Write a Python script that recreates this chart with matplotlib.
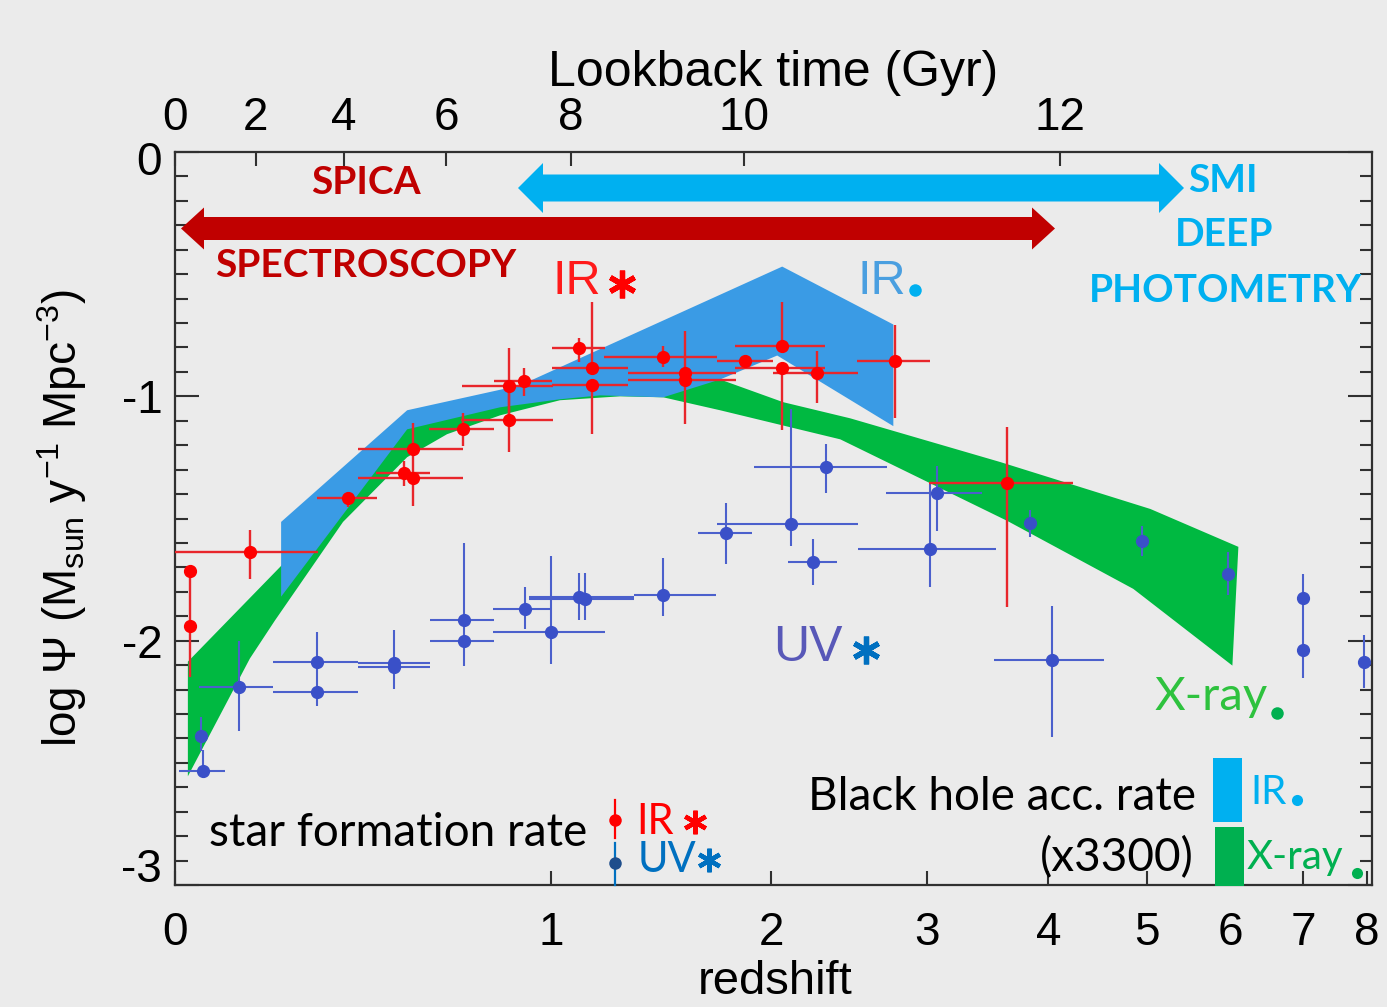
import numpy as np
import matplotlib
matplotlib.use('Agg')
import matplotlib.pyplot as plt
from matplotlib.patches import Polygon, Rectangle
from matplotlib.lines import Line2D
from matplotlib.ticker import MultipleLocator, FixedLocator, NullLocator

plt.rcParams['font.family'] = ['Liberation Sans', 'DejaVu Sans']
plt.rcParams['mathtext.fontset'] = 'custom'
plt.rcParams['mathtext.rm'] = 'Liberation Sans'
plt.rcParams['mathtext.it'] = 'Liberation Sans:italic'

# ---------------- data ----------------
# IR star formation rate density points: redshift, x-bar ends, log SFRD, y-bar ends
ir_z    = [0.028, 0.028, 0.148, 0.375, 0.525, 0.551, 0.551, 0.700, 0.851, 0.851, 0.903,
           1.106, 1.157, 1.157, 1.459, 1.561, 1.561, 1.860, 2.062, 2.062, 2.266, 2.772, 3.637]
ir_zlo  = [0.028, 0.028, 0.000, 0.299, 0.448, 0.401, 0.401, 0.597, 0.694, 0.697, 0.800,
           1.004, 1.004, 1.004, 1.206, 1.305, 1.305, 1.716, 1.808, 1.808, 2.012, 2.516, 3.015]
ir_zhi  = [0.028, 0.028, 0.302, 0.451, 0.600, 0.700, 0.700, 0.800, 1.007, 1.007, 1.004,
           1.210, 1.305, 1.305, 1.716, 1.813, 1.813, 2.012, 2.314, 2.314, 2.523, 3.023, 4.236]
ir_y    = [-1.714, -1.939, -1.637, -1.416, -1.314, -1.335, -1.216, -1.135, -1.098, -0.959, -0.939,
           -0.804, -0.886, -0.955, -0.837, -0.906, -0.935, -0.857, -0.796, -0.886, -0.906, -0.857, -1.355]
ir_ylo  = [-1.939, -2.147, -1.747, -1.453, -1.367, -1.449, -1.335, -1.204, -1.229, -1.098, -1.000,
           -0.861, -0.886, -1.155, -0.878, -0.906, -1.114, -0.882, -0.796, -1.139, -1.029, -1.090, -1.861]
ir_yhi  = [-1.714, -1.939, -1.547, -1.392, -1.265, -1.335, -1.110, -1.069, -0.959, -0.804, -0.882,
           -0.763, -0.612, -0.955, -0.796, -0.731, -0.935, -0.837, -0.612, -0.886, -0.816, -0.710, -1.127]

# UV star formation rate density points
uv_z    = [0.049, 0.053, 0.125, 0.299, 0.299, 0.497, 0.497, 0.704, 0.704, 0.907, 1.000, 1.106, 1.129,
           1.459, 1.762, 2.112, 2.320, 2.243, 3.023, 3.075, 3.836, 4.038, 4.947, 5.968, 7.00, 7.00, 7.95]
uv_zlo  = [0.049, 0.007, 0.045, 0.198, 0.198, 0.401, 0.401, 0.600, 0.600, 0.797, 0.797, 0.921, 0.921,
           1.331, 1.623, 1.716, 1.908, 2.095, 2.523, 2.710, 3.836, 3.526, 4.947, 5.968, 7.00, 7.00, 7.95]
uv_zhi  = [0.049, 0.096, 0.198, 0.401, 0.401, 0.600, 0.600, 0.800, 0.800, 1.000, 1.210, 1.331, 1.331,
           1.711, 1.897, 2.523, 2.717, 2.388, 3.544, 3.428, 3.836, 4.543, 4.947, 5.968, 7.00, 7.00, 7.95]
uv_y    = [-2.392, -2.535, -2.188, -2.086, -2.212, -2.090, -2.106, -1.914, -2.000, -1.869, -1.963, -1.820, -1.829,
           -1.812, -1.559, -1.522, -1.290, -1.678, -1.624, -1.396, -1.518, -2.078, -1.592, -1.727, -1.824, -2.037, -2.086]
uv_ylo  = [-2.453, -2.560, -2.371, -2.086, -2.269, -2.090, -2.196, -2.000, -2.102, -1.951, -2.094, -1.914, -1.914,
           -1.898, -1.686, -1.612, -1.396, -1.771, -1.780, -1.551, -1.576, -2.396, -1.653, -1.812, -1.824, -2.151, -2.192]
uv_yhi  = [-2.314, -2.449, -2.000, -1.963, -2.086, -1.955, -2.106, -1.600, -2.000, -1.780, -1.653, -1.722, -1.722,
           -1.661, -1.437, -1.053, -1.196, -1.584, -1.359, -1.286, -1.465, -1.857, -1.531, -1.637, -1.727, -1.824, -1.976]

# X-ray black hole accretion rate band (x3300)
xr_up_z = [0.024, 0.216, 0.380, 0.534, 0.820, 1.189, 1.459, 1.731, 2.068, 2.471, 3.577, 5.035, 6.098]
xr_up_y = [-2.086, -1.694, -1.380, -1.094, -1.012, -0.971, -0.963, -0.931, -1.024, -1.090, -1.269, -1.461, -1.616]
xr_lo_z = [0.024, 0.148, 0.202, 0.363, 0.534, 0.651, 0.820, 1.033, 1.271, 1.459, 1.731, 2.408, 3.637, 4.848, 6.020]
xr_lo_y = [-2.555, -2.073, -1.918, -1.514, -1.249, -1.155, -1.078, -1.016, -1.000, -1.004, -1.057, -1.176, -1.510, -1.788, -2.102]

# IR black hole accretion rate band (x3300)
irb_up_z = [0.216, 0.534, 0.889, 2.062, 2.758]
irb_up_y = [-1.514, -1.057, -0.955, -0.469, -0.706]
irb_lo_z = [0.216, 0.534, 0.820, 1.033, 1.189, 1.459, 1.731, 2.034, 2.758]
irb_lo_y = [-1.820, -1.135, -1.045, -1.012, -0.996, -1.004, -0.931, -0.833, -1.122]

z_ticks = [0, 1, 2, 3, 4, 5, 6, 7, 8]
lookback_ticks = [0, 2, 4, 6, 8, 10, 12]
y_ticks = [-3, -2, -1, 0]

# ---------------- cosmology for the top axis ----------------
H0, Om, OL = 70.0, 0.3, 0.7
tH = 977.8 / H0
zg = np.linspace(0, 20, 20001)
Ez = np.sqrt(Om * (1 + zg) ** 3 + OL)
integrand = 1.0 / ((1 + zg) * Ez)
tlb = tH * np.concatenate([[0], np.cumsum(0.5 * (integrand[1:] + integrand[:-1]) * np.diff(zg))])
z_of_t = np.interp(lookback_ticks, tlb, zg)

# ---------------- figure ----------------
W, H = 1387, 1007
BG = '#ebebeb'
fig = plt.figure(figsize=(W / 100, H / 100), dpi=100, facecolor=BG)
L, R, T, B = 175, 1372, 152, 885
ax = fig.add_axes([L / W, 1 - B / H, (R - L) / W, (B - T) / H])
ax.set_facecolor(BG)

fwd = lambda z: np.log10(1 + np.asarray(z, dtype=float))
inv = lambda u: 10 ** np.asarray(u, dtype=float) - 1
ax.set_xscale('function', functions=(fwd, inv))
ax.set_xlim(0, 8.08)
ax.set_ylim(-3.0, 0)

def fx(x):
    return x / W

def fy(y):
    return 1 - y / H

# bands
ax.fill(np.r_[xr_up_z, xr_lo_z[::-1]], np.r_[xr_up_y, xr_lo_y[::-1]],
        color='#00b941', lw=0, zorder=1)
ax.fill(np.r_[irb_up_z, irb_lo_z[::-1]], np.r_[irb_up_y, irb_lo_y[::-1]],
        color='#3a9be5', lw=0, zorder=2)

# points
def errpts(z, zlo, zhi, y, ylo, yhi, mc, ec, elw):
    z, zlo, zhi = map(np.asarray, (z, zlo, zhi))
    y, ylo, yhi = map(np.asarray, (y, ylo, yhi))
    ax.errorbar(z, y, xerr=[z - zlo, zhi - z], yerr=[y - ylo, yhi - y], fmt='o', ms=8.5,
                mfc=mc, mec=mc, ecolor=ec, elinewidth=elw, capsize=0, zorder=4)

errpts(uv_z, uv_zlo, uv_zhi, uv_y, uv_ylo, uv_yhi, '#3a50c8', '#4b60cc', 1.5)
errpts(ir_z, ir_zlo, ir_zhi, ir_y, ir_ylo, ir_yhi, '#ff0000', '#e8262b', 1.7)

# axes styling
for s in ax.spines.values():
    s.set_color('#303030')
    s.set_linewidth(1.6)
ax.xaxis.set_major_locator(FixedLocator(z_ticks))
ax.xaxis.set_minor_locator(NullLocator())
ax.set_xticklabels([str(t) for t in z_ticks])
ax.yaxis.set_major_locator(FixedLocator(y_ticks))
ax.yaxis.set_minor_locator(MultipleLocator(0.1))
# end labels (0 and -3) are drawn slightly inside the frame, as in the original
ax.set_yticklabels(['' if t in (y_ticks[0], y_ticks[-1]) else str(t) for t in y_ticks])
ax.tick_params(axis='x', which='major', direction='in', length=10, width=1.5, color='#303030',
               labelsize=33, pad=19, top=False)
ax.tick_params(axis='y', which='major', direction='in', length=17, width=1.5, color='#303030',
               labelsize=33, pad=9, right=True)
ax.tick_params(axis='y', which='minor', direction='in', length=9, width=1.5, color='#303030', right=True)
fig.text(fx(162), fy(163), str(y_ticks[-1]), fontsize=33, ha='right', va='center')
fig.text(fx(162), fy(870), str(y_ticks[0]), fontsize=33, ha='right', va='center')

ax2 = ax.twiny()
ax2.set_xscale('function', functions=(fwd, inv))
ax2.set_xlim(ax.get_xlim())
ax2.xaxis.set_major_locator(FixedLocator(z_of_t))
ax2.xaxis.set_minor_locator(NullLocator())
ax2.set_xticklabels([str(t) for t in lookback_ticks])
ax2.tick_params(axis='x', direction='in', length=10, width=1.5, color='#303030', labelsize=33, pad=9)
for s in ax2.spines.values():
    s.set_visible(False)

# axis titles
fig.text(fx(773), fy(73), 'Lookback time (Gyr)', fontsize=36, ha='center', va='center')
fig.text(fx(775), fy(982), 'redshift', fontsize=34, ha='center', va='center')
fig.text(fx(62), fy(518), r'log Ψ (M$_{\rm sun}$ y$^{-1}$ Mpc$^{-3}$)', fontsize=33,
         rotation=90, ha='center', va='center')

# arrows
def darrow(x0, x1, yc, sh, hh, hl, color):
    pts = [(x0, yc), (x0 + hl, yc - hh), (x0 + hl, yc - sh), (x1 - hl, yc - sh), (x1 - hl, yc - hh),
           (x1, yc), (x1 - hl, yc + hh), (x1 - hl, yc + sh), (x0 + hl, yc + sh), (x0 + hl, yc + hh)]
    pts = [(fx(a), fy(b)) for a, b in pts]
    fig.add_artist(Polygon(pts, closed=True, transform=fig.transFigure, facecolor=color,
                           edgecolor='none', zorder=5))

darrow(181, 1055, 228.5, 11.5, 21, 23, '#c00000')
darrow(518, 1184, 188, 13.5, 25, 25, '#00b0f0')

CAL = ['Lato', 'DejaVu Sans']
def ctext(x, y, s, size, color, bold=False, fam=CAL, ha='center'):
    fig.text(fx(x), fy(y), s, fontsize=size, color=color, family=fam,
             fontweight='bold' if bold else 'normal', ha=ha, va='center', zorder=6)

ctext(366, 183, 'SPICA', 28, '#c00000', bold=True)
ctext(366, 266, 'SPECTROSCOPY', 28, '#c00000', bold=True)
ctext(1223, 180, 'SMI', 28, '#00b0f0', bold=True)
ctext(1224, 234, 'DEEP', 28, '#00b0f0', bold=True)
ctext(1225, 290, 'PHOTOMETRY', 28, '#00b0f0', bold=True)

HEL = ['Liberation Sans', 'DejaVu Sans']
def mark(x, y, m, ms, color, mew=0):
    fig.add_artist(Line2D([fx(x)], [fy(y)], marker=m, ms=ms, color=color, mfc=color, mec=color,
                          mew=mew, ls='none', transform=fig.transFigure, zorder=6))

ctext(577, 281, 'IR', 35, '#ff1a1a', fam=HEL)
mark(622, 284, (6, 2, 0), 20, '#ff0000', mew=3.8)
ctext(882, 281, 'IR', 35, '#4a9fe0', fam=HEL)
mark(915, 290, 'o', 9, '#00b0f0')
ctext(808, 648, 'UV', 36, '#5858b8', fam=HEL)
mark(866, 650, (6, 2, 0), 20, '#0070c0', mew=3.8)
ctext(1211, 697, 'X-ray', 34, '#2ec23e')
mark(1277, 713, 'o', 9, '#00b050')

# legends
ctext(398, 833, 'star formation rate', 33, 'black')
fig.add_artist(Line2D([fx(615), fx(615)], [fy(800), fy(838)], color='#ff0000', lw=1.6,
                      transform=fig.transFigure, zorder=6))
mark(615, 820, 'o', 9, '#ff0000')
fig.add_artist(Line2D([fx(615), fx(615)], [fy(843), fy(885)], color='#0070c0', lw=1.6,
                      transform=fig.transFigure, zorder=6))
mark(615, 863, 'o', 9, '#1f4e8c')
ctext(636, 822, 'IR', 30, '#ff0000', ha='left')
mark(695, 822, (6, 2, 0), 17, '#ff0000', mew=3.2)
ctext(638, 860, 'UV', 30, '#0070c0', ha='left')
mark(709, 860, (6, 2, 0), 17, '#0070c0', mew=3.2)

ctext(1002, 797, 'Black hole acc. rate', 33, 'black')
ctext(1117, 858, '(x3300)', 33, 'black')
fig.add_artist(Rectangle((fx(1213), fy(822)), 29 / W, 64 / H, transform=fig.transFigure,
                         facecolor='#00b0f0', edgecolor='none', zorder=6))
fig.add_artist(Rectangle((fx(1215), fy(886)), 29 / W, 59 / H, transform=fig.transFigure,
                         facecolor='#00b050', edgecolor='none', zorder=6))
ctext(1250, 792, 'IR', 29, '#00b0f0', ha='left')
mark(1297, 800, 'o', 8, '#00b0f0')
ctext(1247, 857, 'X-ray', 29, '#00b050', ha='left')
mark(1357, 873, 'o', 8, '#00b050')

fig.savefig('out.png', dpi=100, facecolor=BG)
